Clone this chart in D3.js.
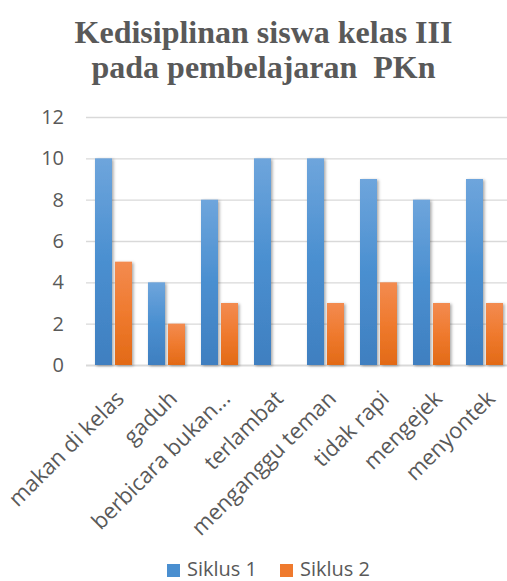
<!DOCTYPE html>
<html><head><meta charset="utf-8">
<script src="https://cdn.jsdelivr.net/npm/d3@7"></script>
<style>body{margin:0;background:#fff}svg{display:block}</style>
</head><body>
<script>
const categories = ["makan di kelas","gaduh","berbicara bukan...","terlambat","menganggu teman","tidak rapi","mengejek","menyontek"];
const seriesNames = ["Siklus 1","Siklus 2"];
const siklus1 = [10,4,8,10,10,9,8,9];
const siklus2 = [5,2,3,0,3,4,3,3];
const yTicks = [0,2,4,6,8,10,12];
const titleLines = ["Kedisiplinan siswa kelas III","pada pembelajaran\u00a0 PKn"];

const W=507,H=581;
const svg=d3.select("body").append("svg").attr("width",W).attr("height",H);
const defs=svg.append("defs");
const gradColors=[["#6ea5dc","#4a8fd0","#3f7fc0"],["#f38b50","#ef7a2e","#e26a17"]];
gradColors.forEach((c,i)=>{
  const g=defs.append("linearGradient").attr("id","g"+i).attr("x1",0).attr("y1",0).attr("x2",0).attr("y2",1);
  g.append("stop").attr("offset","0%").attr("stop-color",c[0]);
  g.append("stop").attr("offset","50%").attr("stop-color",c[1]);
  g.append("stop").attr("offset","100%").attr("stop-color",c[2]);
});
const f=defs.append("filter").attr("id","sh").attr("x","-30%").attr("y","-10%").attr("width","160%").attr("height","120%");
f.append("feDropShadow").attr("dx",1.5).attr("dy",1).attr("stdDeviation",1.5).attr("flood-color","#000").attr("flood-opacity",0.35);

const x0=d3.scaleBand().domain(categories).range([87,511]);
const x1=d3.scaleBand().domain(seriesNames).range([8,45]).paddingInner(0.15);
const y=d3.scaleLinear().domain([0,12]).range([365,117]);

// title
svg.append("g").selectAll("text").data(titleLines).join("text")
  .attr("x",263.5).attr("y",(d,i)=>43+i*35).attr("text-anchor","middle")
  .attr("font-family","'Liberation Serif','Times New Roman',serif").attr("font-weight","bold")
  .attr("font-size",32).attr("fill","#595959").text(d=>d);

// grid
const yAxis=d3.axisLeft(y).tickValues(yTicks).tickSize(-(W-86)).tickPadding(22);
const ga=svg.append("g").attr("transform","translate(86,0)").call(yAxis);
ga.select(".domain").remove();
ga.selectAll(".tick line").attr("stroke","#d9d9d9").attr("stroke-width",1.3);
ga.selectAll(".tick text").attr("font-family","'Open Sans',sans-serif").attr("font-size",20).attr("fill","#595959");
ga.selectAll(".tick").filter(d=>d===0).select("line").attr("stroke-width",2.2);

// bars
const data=categories.map((c,i)=>({c,vals:[siklus1[i],siklus2[i]]}));
const grp=svg.append("g").selectAll("g").data(data).join("g").attr("transform",d=>`translate(${x0(d.c)},0)`);
grp.selectAll("rect").data(d=>d.vals.map((v,j)=>({v,s:seriesNames[j],j}))).join("rect")
  .attr("x",d=>x1(d.s)).attr("width",x1.bandwidth())
  .attr("y",d=>y(d.v)).attr("height",d=>y(0)-y(d.v))
  .attr("fill",d=>`url(#g${d.j})`).attr("filter",d=>d.v>0?"url(#sh)":null);

// x labels
const xAxis=d3.axisBottom(x0).tickSize(0).tickPadding(0);
const gx=svg.append("g").attr("transform","translate(0,365)").call(xAxis);
gx.select(".domain").remove();
gx.selectAll(".tick text").attr("font-family","'Open Sans',sans-serif").attr("font-size",22).attr("fill","#595959")
  .attr("text-anchor","end").attr("dy",0).attr("y",0)
  .attr("transform","translate(12,35) rotate(-45)");

// legend
const lg=svg.append("g");
const lx=[167,280];
seriesNames.forEach((s,i)=>{
  lg.append("rect").attr("x",lx[i]).attr("y",564).attr("width",13).attr("height",13).attr("fill",gradColors[i][1]);
  lg.append("text").attr("x",lx[i]+20).attr("y",576).attr("font-family","'Open Sans',sans-serif").attr("font-size",20).attr("fill","#595959").text(s);
});
</script>
</body></html>
